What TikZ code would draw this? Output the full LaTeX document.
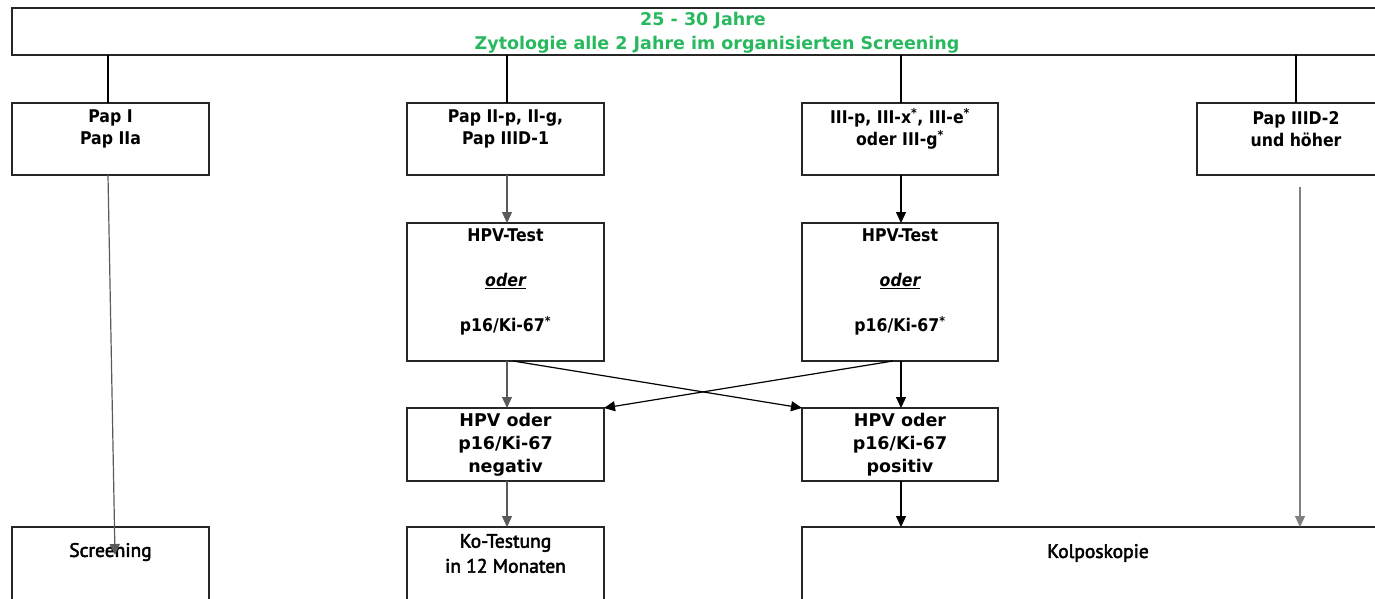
\documentclass[tikz,border=0pt]{standalone}
\usepackage{fontspec}
\setmainfont{DejaVu Sans}
\newfontfamily\tahfont[FakeStretch=0.9]{DejaVu Sans}
\newfontfamily\verdfont{DejaVu Sans}
\newfontfamily\myrfont[FakeBold=2.5]{PT Sans}
\usetikzlibrary{arrows.meta}
\definecolor{titlegreen}{RGB}{40,185,95}
\definecolor{linegray}{RGB}{90,90,90}
\begin{document}
\begin{tikzpicture}[x=1pt,y=-1pt,
  box/.style={draw=black!85, line width=1.6pt, inner sep=0pt, outer sep=0pt, anchor=north west},
  tahtxt/.style={align=center, inner sep=0pt, font=\tahfont\bfseries\fontsize{17.5}{22}\selectfont},
  verdtxt/.style={align=center, inner sep=0pt, font=\verdfont\bfseries\fontsize{17.5}{23}\selectfont},
  titletxt/.style={inner sep=0pt, text=titlegreen, font=\verdfont\bfseries\fontsize{17.5}{22}\selectfont},
  myrtxt/.style={align=center, inner sep=0pt, font=\myrfont\fontsize{19.5}{25}\selectfont},
  conn/.style={line width=1.2pt, draw=black},
  arr/.style={conn, -{Triangle[length=11pt,width=10pt]}}
]
\useasboundingbox (0,0) rectangle (1375,598);

% top box
\node[box, minimum width=1380pt, minimum height=47pt] (top) at (12,8) {};
\node[titletxt] (title1) at (703,20.5) {25 - 30 Jahre};
\node[titletxt] (title2) at (717,44.5) {Zytologie alle 2 Jahre im organisierten Screening};

% row 1
\node[box, minimum width=197pt, minimum height=72pt] (p1) at (12,103) {};
\node[box, minimum width=197pt, minimum height=72pt] (p2) at (407,103) {};
\node[box, minimum width=196pt, minimum height=72pt] (p3) at (802,103) {};
\node[box, minimum width=197pt, minimum height=72pt] (p4) at (1197,103) {};
\node[tahtxt] (t1) at (110.5,129) {Pap I\\Pap IIa};
\node[tahtxt] (t2) at (505.5,129) {Pap II-p, II-g,\\Pap IIID-1};
\node[tahtxt] (t3) at (900,129) {III-p, III-x\textsuperscript{*}, III-e\textsuperscript{*}\\oder III-g\textsuperscript{*}};
\node[tahtxt] (t4) at (1296,129) {Pap IIID-2\\und höher};

% HPV test boxes
\node[box, minimum width=197pt, minimum height=138pt] (h1) at (407,223) {};
\node[box, minimum width=196pt, minimum height=138pt] (h2) at (802,223) {};
\node[tahtxt] (th1) at (505.5,282) {HPV-Test\\[23pt]\underline{\itshape oder}\\[23pt]p16/Ki-67\textsuperscript{*}};
\node[tahtxt] (th2) at (900,282) {HPV-Test\\[23pt]\underline{\itshape oder}\\[23pt]p16/Ki-67\textsuperscript{*}};

% result boxes
\node[box, minimum width=197pt, minimum height=73pt] (neg) at (407,408) {};
\node[box, minimum width=196pt, minimum height=73pt] (pos) at (802,408) {};
\node[verdtxt] (tneg) at (505.5,445) {HPV oder\\p16/Ki-67\\negativ};
\node[verdtxt] (tpos) at (900,445) {HPV oder\\p16/Ki-67\\positiv};

% bottom boxes
\node[box, minimum width=197pt, minimum height=100pt] (scr) at (12,527) {};
\node[box, minimum width=197pt, minimum height=100pt] (ko) at (407,527) {};
\node[box, minimum width=592pt, minimum height=100pt] (kol) at (802,527) {};
\node[myrtxt] (tscr) at (110.5,552) {Screening};
\node[myrtxt] (tko) at (505.5,553.5) {Ko-Testung\\in 12 Monaten};
\node[myrtxt] (tkol) at (1098,553) {Kolposkopie};

% connectors from top
\draw[conn] (top.south -| 108,0) -- (p1.north -| 108,0);
\draw[conn] (top.south -| 507,0) -- (p2.north -| 507,0);
\draw[conn] (top.south -| 901,0) -- (p3.north -| 901,0);
\draw[conn] (top.south -| 1296,0) -- (p4.north -| 1296,0);

% Pap I to Screening
\coordinate (scrtip) at (115,555);
\draw[arr, draw=linegray] (p1.south -| 108,0) -- (scrtip);

% row1 to HPV tests
\draw[arr, draw=linegray] (p2.south -| 507,0) -- (h1.north -| 507,0);
\draw[arr] (p3.south -| 901,0) -- (h2.north -| 901,0);

% Pap IIID-2 to Kolposkopie
\coordinate (p4start) at (1300,187);
\draw[arr, draw=gray] (p4start) -- (kol.north -| p4start);

% HPV tests to results
\draw[arr, draw=linegray] (h1.south -| 507,0) -- (neg.north -| 507,0);
\draw[arr] (h2.south -| 901,0) -- (pos.north -| 901,0);
\draw[arr] (h1.south -| 513,0) -- (pos.north west);
\draw[arr] (h2.south -| 893,0) -- (neg.north east);

% results to bottom
\draw[arr, draw=linegray] (neg.south -| 507,0) -- (ko.north -| 507,0);
\draw[arr] (pos.south -| 901,0) -- (kol.north -| 901,0);
\end{tikzpicture}
\end{document}
